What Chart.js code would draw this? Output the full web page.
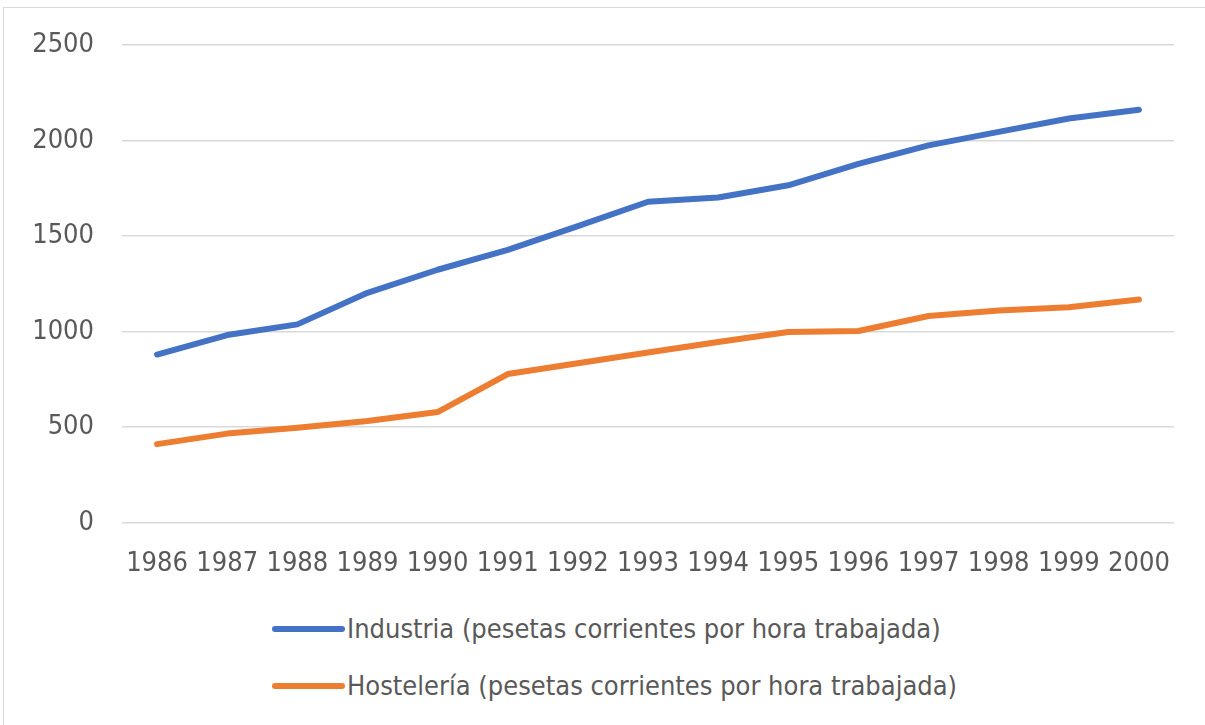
<!DOCTYPE html>
<html>
<head>
<meta charset="utf-8">
<script src="https://cdn.jsdelivr.net/npm/chart.js@4.4.0/dist/chart.umd.min.js"></script>
<style>
  body { margin: 0; background: #fff; }
  #frame { position: absolute; left: 3px; top: 7px; width: 1210px; height: 730px; border: 1px solid #d9d9d9; box-sizing: border-box; }
  #wrap { position: absolute; left: 1px; top: -3px; width: 1195px; height: 600px; }
  #legend { position: absolute; left: 0; top: 0; font-family: "Liberation Sans Narrow", "DejaVu Sans Condensed", sans-serif; font-size: 27px; color: #595959; }
  .item { position: absolute; white-space: nowrap; display: flex; align-items: center; }
  .swatch { width: 73px; height: 6px; border-radius: 3px; margin-right: 2px; }
</style>
</head>
<body>
<div id="frame">
  <div id="wrap"><canvas id="myChart"></canvas></div>
  <div id="legend"></div>
</div>
<script>
const years = ['1986','1987','1988','1989','1990','1991','1992','1993','1994','1995','1996','1997','1998','1999','2000'];
const industria = [880, 982, 1038, 1203, 1324, 1428, 1552, 1680, 1702, 1766, 1878, 1975, 2046, 2116, 2162];
const hosteleria = [411, 466, 497, 532, 579, 778, 834, 891, 946, 998, 1003, 1082, 1111, 1128, 1168];
const seriesNames = ['Industria (pesetas corrientes por hora trabajada)', 'Hostelería (pesetas corrientes por hora trabajada)'];
const seriesColors = ['#4472C4', '#ED7D31'];
const yTicks = [0, 500, 1000, 1500, 2000, 2500];

const fontFamily = '"Liberation Sans Narrow", "DejaVu Sans Condensed", sans-serif';

var ctx = document.getElementById('myChart').getContext('2d');
var myChart = new Chart(ctx, {
  type: 'line',
  data: {
    labels: years,
    datasets: [{
      label: seriesNames[0],
      data: industria,
      borderColor: seriesColors[0],
      backgroundColor: seriesColors[0],
      borderWidth: 6,
      pointRadius: 0,
      borderCapStyle: 'round',
      borderJoinStyle: 'round',
      tension: 0
    }, {
      label: seriesNames[1],
      data: hosteleria,
      borderColor: seriesColors[1],
      backgroundColor: seriesColors[1],
      borderWidth: 6,
      pointRadius: 0,
      borderCapStyle: 'round',
      borderJoinStyle: 'round',
      tension: 0
    }]
  },
  options: {
    responsive: true,
    maintainAspectRatio: false,
    animation: false,
    layout: { padding: { top: 4, right: 26, left: 0, bottom: 0 } },
    plugins: {
      legend: { display: false },
      tooltip: { enabled: false }
    },
    scales: {
      x: {
        offset: true,
        grid: { display: false, drawTicks: false },
        border: { display: false },
        ticks: {
          color: '#595959',
          font: { family: fontFamily, size: 27 },
          padding: 25,
          maxRotation: 0,
          autoSkip: false
        }
      },
      y: {
        min: 0,
        max: 2500,
        afterBuildTicks: (axis) => { axis.ticks = yTicks.map(v => ({ value: v })); },
        afterFit: (axis) => { axis.width = 117; },
        grid: { color: '#d9d9d9', lineWidth: 1.5, drawTicks: false },
        border: { display: false },
        ticks: {
          color: '#595959',
          font: { family: fontFamily, size: 27, lineHeight: 0.9 },
          padding: 28,
          callback: (v) => String(v)
        }
      }
    }
  }
});

// legend, one entry per row like the original
const legend = document.getElementById('legend');
const legendTops = [605, 662];
seriesNames.forEach((name, i) => {
  const item = document.createElement('div');
  item.className = 'item';
  item.style.left = '268px';
  item.style.top = legendTops[i] + 'px';
  const sw = document.createElement('span');
  sw.className = 'swatch';
  sw.style.background = seriesColors[i];
  const txt = document.createElement('span');
  txt.textContent = name;
  item.appendChild(sw);
  item.appendChild(txt);
  legend.appendChild(item);
});
</script>
</body>
</html>
